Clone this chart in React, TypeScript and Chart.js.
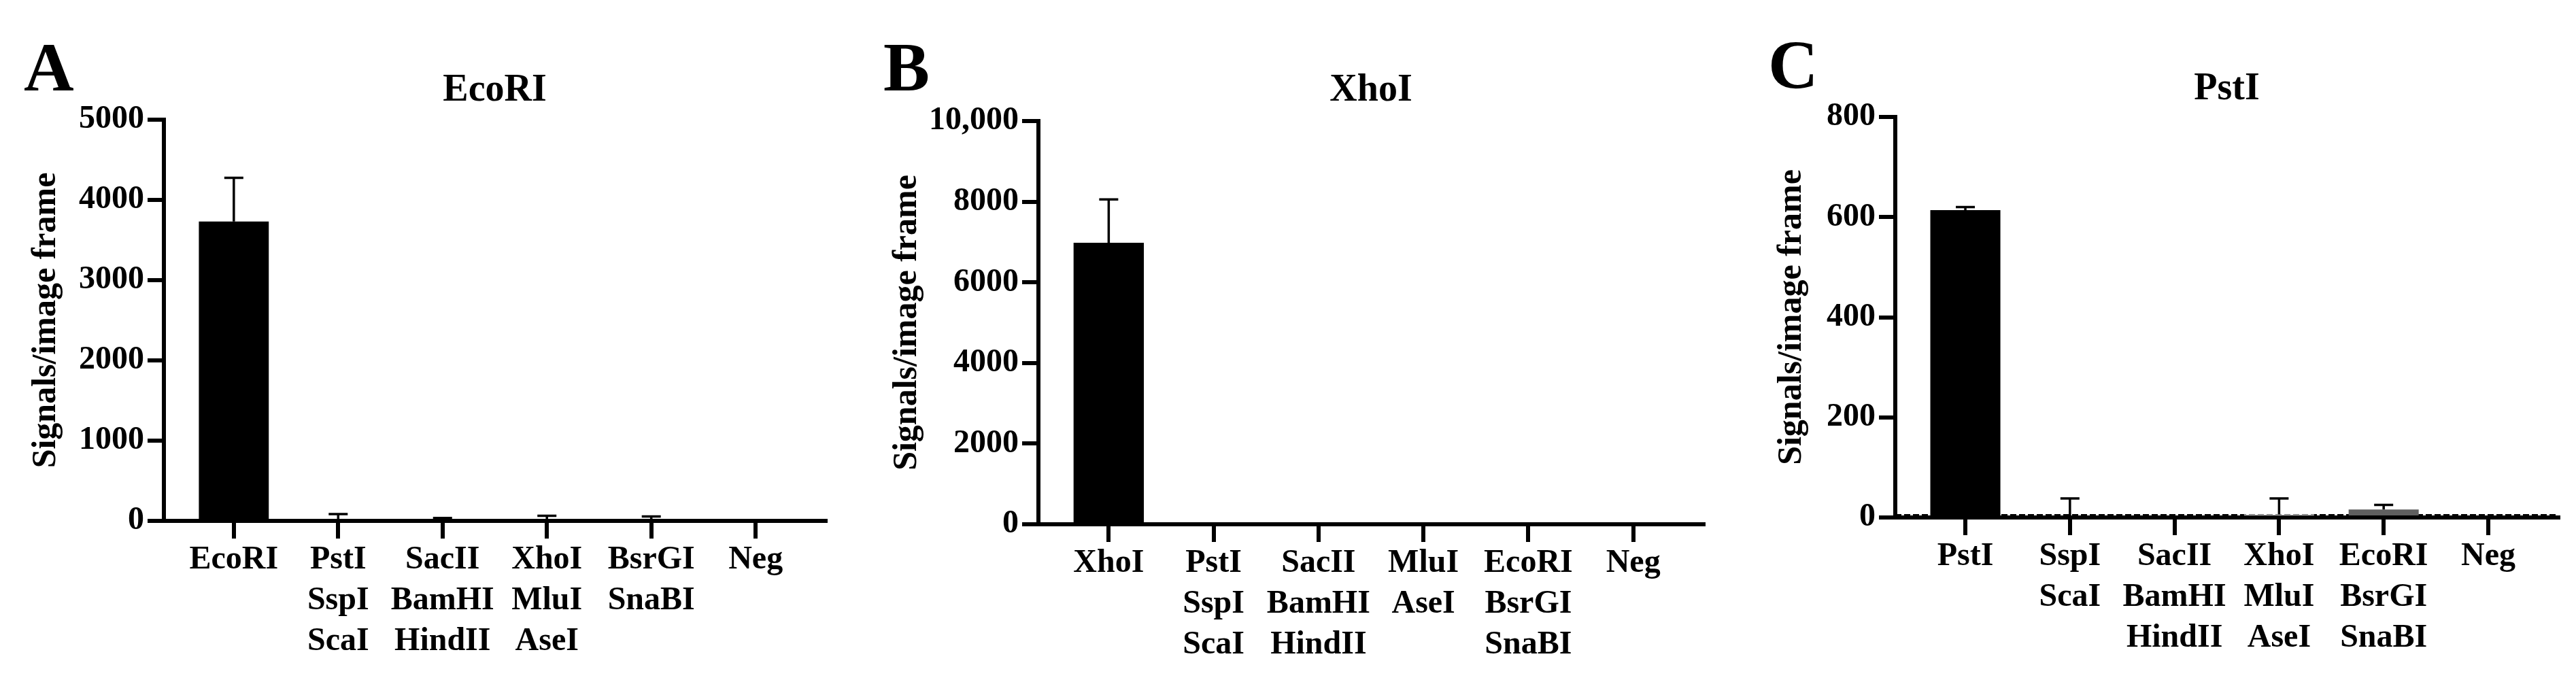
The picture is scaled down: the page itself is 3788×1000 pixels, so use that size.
import React, { useEffect, useRef } from "react";
import { Chart, registerables } from "chart.js";

Chart.register(...registerables);

const FONT = "'Liberation Serif', 'Times New Roman', serif";

// ---------- Panel A (EcoRI) ----------
const categoriesA = [["EcoRI"], ["PstI", "SspI", "ScaI"], ["SacII", "BamHI", "HindII"], ["XhoI", "MluI", "AseI"], ["BsrGI", "SnaBI"], ["Neg"]];
const meansA = [3730, 8, 4, 6, 4, 0];
const sdA = [545, 77, 32, 58, 52, 0];
const colorsA = ["#000000", "#000000", "#000000", "#000000", "#000000", "#000000"];
const yTicksA = ["0", "1000", "2000", "3000", "4000", "5000"];

// ---------- Panel B (XhoI) ----------
const categoriesB = [["XhoI"], ["PstI", "SspI", "ScaI"], ["SacII", "BamHI", "HindII"], ["MluI", "AseI"], ["EcoRI", "BsrGI", "SnaBI"], ["Neg"]];
const meansB = [6980, 3, 2, 2, 4, 1];
const sdB = [1075, 4, 3, 3, 5, 0];
const colorsB = ["#000000", "#000000", "#000000", "#000000", "#000000", "#000000"];
const yTicksB = ["0", "2000", "4000", "6000", "8000", "10,000"];

// ---------- Panel C (PstI) ----------
const categoriesC = [["PstI"], ["SspI", "ScaI"], ["SacII", "BamHI", "HindII"], ["XhoI", "MluI", "AseI"], ["EcoRI", "BsrGI", "SnaBI"], ["Neg"]];
const meansC = [614, 1, 1, 6, 16, 1];
const sdC = [6, 37, 0, 32, 9, 0];
const colorsC = ["#000000", "#000000", "#000000", "#d6d6d6", "#606060", "#000000"];
const yTicksC = ["0", "200", "400", "600", "800"];
const thresholdC = 5;

type Panel = {
  letter: string;
  title: string;
  categories: string[][];
  means: number[];
  sds: number[];
  colors: string[];
  yTicks: string[];
  yMax: number;
  yStep: number;
  threshold: number | null;
  left: number;
  width: number;
  yWidth: number;
  titlePad: number;
  padRight: number;
  padTop: number;
  padBottom: number;
  letterX: number;
  letterY: number;
  titleY: number;
};

const panels: Panel[] = [
  {
    letter: "A", title: "EcoRI", categories: categoriesA, means: meansA, sds: sdA, colors: colorsA,
    yTicks: yTicksA, yMax: 5000, yStep: 1000, threshold: null,
    left: 0, width: 1250, yWidth: 241, titlePad: 38, padRight: 36, padTop: 176, padBottom: 34,
    letterX: 35, letterY: 133, titleY: 148,
  },
  {
    letter: "B", title: "XhoI", categories: categoriesB, means: meansB, sds: sdB, colors: colorsB,
    yTicks: yTicksB, yMax: 10000, yStep: 2000, threshold: null,
    left: 1250, width: 1270, yWidth: 277, titlePad: 54, padRight: 15, padTop: 178, padBottom: 29,
    letterX: 49, letterY: 133, titleY: 148,
  },
  {
    letter: "C", title: "PstI", categories: categoriesC, means: meansC, sds: sdC, colors: colorsC,
    yTicks: yTicksC, yMax: 800, yStep: 200, threshold: thresholdC,
    left: 2520, width: 1268, yWidth: 267, titlePad: 85, padRight: 26, padTop: 172, padBottom: 39,
    letterX: 80, letterY: 130, titleY: 146,
  },
];

function makeChart(canvas: HTMLCanvasElement, p: Panel) {
  const decor = {
    id: "decor" + p.letter,
    beforeDatasetsDraw(chart: any) {
      if (p.threshold === null) return;
      const { ctx, chartArea } = chart;
      const y = chart.scales.y.getPixelForValue(p.threshold);
      ctx.save();
      ctx.strokeStyle = "#000";
      ctx.lineWidth = 2.5;
      ctx.setLineDash([9, 4]);
      ctx.beginPath();
      ctx.moveTo(chartArea.left, y);
      ctx.lineTo(chartArea.right, y);
      ctx.stroke();
      ctx.restore();
    },
    afterDatasetsDraw(chart: any) {
      const meta = chart.getDatasetMeta(0);
      const ys = chart.scales.y;
      const ctx = chart.ctx;
      const cap = 28;
      ctx.save();
      ctx.strokeStyle = "#000";
      ctx.lineWidth = 3.5;
      ctx.setLineDash([]);
      meta.data.forEach((bar: any, i: number) => {
        const sd = p.sds[i];
        if (!sd) return;
        const m = p.means[i];
        const y0 = ys.getPixelForValue(m);
        const y1 = ys.getPixelForValue(m + sd);
        ctx.beginPath();
        ctx.moveTo(bar.x, y0);
        ctx.lineTo(bar.x, y1);
        ctx.moveTo(bar.x - cap / 2, y1);
        ctx.lineTo(bar.x + cap / 2, y1);
        ctx.stroke();
      });
      ctx.restore();
    },
    afterDraw(chart: any) {
      const { ctx, chartArea } = chart;
      ctx.save();
      ctx.fillStyle = "#000";
      ctx.textBaseline = "alphabetic";
      ctx.textAlign = "left";
      ctx.font = `bold 102px ${FONT}`;
      ctx.fillText(p.letter, p.letterX, p.letterY);
      ctx.textAlign = "center";
      ctx.font = `bold 56px ${FONT}`;
      ctx.fillText(p.title, (chartArea.left + chartArea.right) / 2, p.titleY);
      ctx.restore();
    },
  };

  const tickFont = { family: FONT, size: 48, weight: "bold" as const, lineHeight: 1.25 };

  return new Chart(canvas, {
    type: "bar",
    data: {
      datasets: [
        {
          data: p.means.map((m, i) => ({ x: i, y: m })),
          backgroundColor: p.colors,
          borderWidth: 0,
          categoryPercentage: 1,
          barPercentage: 0.67,
        },
      ],
    },
    options: {
      animation: false,
      responsive: false,
      devicePixelRatio: 1,
      layout: { padding: { left: 0, right: p.padRight, top: p.padTop, bottom: p.padBottom } },
      plugins: { legend: { display: false }, tooltip: { enabled: false }, title: { display: false } },
      scales: {
        x: {
          type: "linear",
          min: -0.67,
          max: 5.67,
          offset: false,
          afterBuildTicks: (s: any) => {
            s.ticks = p.categories.map((_, i) => ({ value: i }));
          },
          afterFit: (s: any) => {
            s.height = 200;
          },
          ticks: {
            callback: (v: any) => p.categories[Math.round(Number(v))],
            autoSkip: false,
            maxRotation: 0,
            minRotation: 0,
            font: tickFont,
            color: "#000",
            padding: 2,
          },
          grid: {
            display: true,
            drawOnChartArea: false,
            drawTicks: true,
            tickLength: 26,
            lineWidth: 6,
            color: "#000",
            offset: false,
          },
          border: { display: true, width: 6, color: "#000", z: 1 },
        },
        y: {
          type: "linear",
          min: 0,
          max: p.yMax,
          afterFit: (s: any) => {
            s.width = p.yWidth;
          },
          ticks: {
            stepSize: p.yStep,
            callback: (v: any, i: number) => p.yTicks[i] ?? String(v),
            font: tickFont,
            color: "#000",
            padding: 5,
          },
          grid: {
            display: true,
            drawOnChartArea: false,
            drawTicks: true,
            tickLength: 24,
            lineWidth: 6,
            color: "#000",
          },
          border: { display: true, width: 6, color: "#000", z: 1 },
          title: {
            display: true,
            text: "Signals/image frame",
            color: "#000",
            font: { family: FONT, size: 50, weight: "bold", lineHeight: 1.2 },
            padding: { top: p.titlePad, bottom: 0 },
          },
        },
      },
    } as any,
    plugins: [decor],
  });
}

export default function App() {
  const refs = useRef<(HTMLCanvasElement | null)[]>([]);

  useEffect(() => {
    const charts = panels.map((p, i) => makeChart(refs.current[i] as HTMLCanvasElement, p));
    return () => charts.forEach((c) => c.destroy());
  }, []);

  return (
    <div style={{ position: "absolute", left: 0, top: 0, width: 3788, height: 1000, background: "#fff" }}>
      {panels.map((p, i) => (
        <canvas
          key={p.letter}
          ref={(el) => {
            refs.current[i] = el;
          }}
          width={p.width}
          height={1000}
          style={{ position: "absolute", left: p.left, top: 0, width: p.width, height: 1000 }}
        />
      ))}
    </div>
  );
}
